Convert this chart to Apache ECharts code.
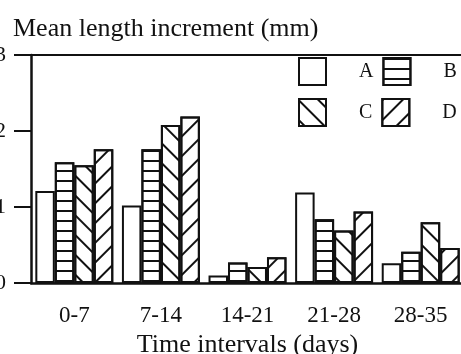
<!DOCTYPE html>
<html>
<head>
<meta charset="utf-8">
<script src="https://cdn.jsdelivr.net/npm/echarts@6/dist/echarts.min.js"></script>
<style>
    html, body { margin: 0; padding: 0; background: #fff; }
    #chart { width: 461px; height: 354px; }
</style>
</head>
<body>
<div id="chart"></div>
<script>
var categories = ['0-7', '7-14', '14-21', '21-28', '28-35'];
var seriesA = [1.21, 1.02, 0.10, 1.19, 0.26];
var seriesB = [1.59, 1.76, 0.27, 0.84, 0.41];
var seriesC = [1.55, 2.08, 0.21, 0.69, 0.80];
var seriesD = [1.76, 2.19, 0.34, 0.94, 0.46];
var yTicks = [0, 1, 2, 3];

/* ---------- grouped bar chart ---------- */
var chart = echarts.init(document.getElementById('chart'));

var ink = '#111';
var serif = '"Liberation Serif", "DejaVu Serif", serif';

function stripes(angle, gap) {
    return {
        symbol: 'rect',
        symbolSize: 1,
        dashArrayX: [1, 0],
        dashArrayY: [2, gap],
        rotation: angle,
        color: ink
    };
}

function barSeries(name, data, decal) {
    var style = {
        color: '#fff',
        borderColor: ink,
        borderWidth: 2
    };
    if (decal) {
        style.decal = decal;
    }
    return {
        name: name,
        type: 'bar',
        data: data,
        barGap: 0,
        barCategoryGap: '10%',
        itemStyle: style
    };
}

var legendText = {
    fontFamily: serif,
    fontSize: 20,
    color: ink,
    padding: [0, 0, 0, 28]
};

option = {
    animation: false,
    title: {
        text: 'Mean length increment (mm)',
        left: 8,
        top: 11,
        textStyle: {
            fontFamily: serif,
            fontSize: 26,
            fontWeight: 'normal',
            color: ink
        }
    },
    legend: [
        {
            data: ['A', 'B'],
            orient: 'horizontal',
            left: 298,
            top: 57,
            width: 200,
            padding: 0,
            icon: 'rect',
            itemWidth: 27,
            itemHeight: 27,
            itemGap: 9,
            textStyle: legendText
        },
        {
            data: ['C', 'D'],
            orient: 'horizontal',
            left: 298,
            top: 98,
            width: 200,
            padding: 0,
            icon: 'rect',
            itemWidth: 27,
            itemHeight: 27,
            itemGap: 9,
            textStyle: legendText
        }
    ],
    grid: {
        left: 31,
        top: 55,
        width: 433,
        height: 228,
        outerBoundsMode: 'none'
    },
    xAxis: [
        {
            type: 'category',
            data: categories,
            position: 'bottom',
            name: 'Time intervals (days)',
            nameLocation: 'middle',
            nameGap: 44,
            nameTextStyle: {
                fontFamily: serif,
                fontSize: 26,
                color: ink
            },
            axisLine: { lineStyle: { color: ink, width: 2.5 } },
            axisTick: {
                alignWithLabel: true,
                length: 14,
                lineStyle: { color: ink, width: 2 }
            },
            axisLabel: {
                fontFamily: serif,
                fontSize: 23,
                color: ink,
                margin: 21
            }
        },
        {
            type: 'category',
            data: categories,
            position: 'top',
            axisLine: { lineStyle: { color: ink, width: 2 } },
            axisTick: { show: false },
            axisLabel: { show: false }
        }
    ],
    yAxis: {
        type: 'value',
        min: yTicks[0],
        max: yTicks[yTicks.length - 1],
        interval: 1,
        axisLine: { show: true, lineStyle: { color: ink, width: 2.5 } },
        axisTick: { show: true, length: 17, lineStyle: { color: ink, width: 2 } },
        splitLine: { show: false },
        axisLabel: {
            fontFamily: serif,
            fontSize: 22,
            color: ink,
            margin: 25
        }
    },
    series: [
        barSeries('A', seriesA, null),
        barSeries('B', seriesB, stripes(0, 8)),
        barSeries('C', seriesC, stripes(Math.PI / 4, 12)),
        barSeries('D', seriesD, stripes(-Math.PI / 4, 12))
    ]
};

chart.setOption(option);
</script>
</body>
</html>
